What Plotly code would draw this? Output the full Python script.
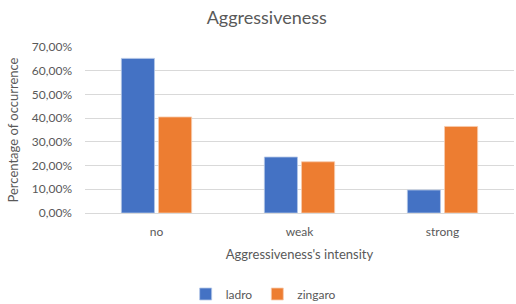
import plotly.graph_objects as go

categories = ["no", "weak", "strong"]
ladro = [0.652, 0.236, 0.097]
zingaro = [0.405, 0.216, 0.365]
y_ticks = [0, 0.1, 0.2, 0.3, 0.4, 0.5, 0.6, 0.7]

FONT = "Lato"
GREY = "#595959"

fig = go.Figure()
fig.add_trace(go.Bar(name="ladro", x=categories, y=ladro,
                     marker=dict(color="#4472C4", line=dict(color="#B4C7E7", width=0.8))))
fig.add_trace(go.Bar(name="zingaro", x=categories, y=zingaro,
                     marker=dict(color="#ED7D31", line=dict(color="#F8CBAD", width=0.8))))

fig.update_layout(
    width=516, height=304,
    margin=dict(l=85, r=2, t=47, b=91),
    paper_bgcolor="white", plot_bgcolor="white",
    separators=", ",
    font=dict(family=FONT, color=GREY, size=12),
    barmode="group", bargap=0.48, bargroupgap=0.11,
    title=dict(text="Aggressiveness", x=0.517, xref="container", xanchor="center",
               y=1 - 18 / 304, yref="container", yanchor="middle",
               font=dict(family=FONT, size=18, color=GREY)),
    showlegend=True,
    legend=dict(orientation="h", xref="container", x=0.51, xanchor="center",
                yref="container", y=1 - 294 / 304, yanchor="middle",
                font=dict(family=FONT, size=12, color=GREY),
                itemwidth=30, traceorder="normal"),
)
fig.update_yaxes(range=[0, 0.7], tickvals=y_ticks, tickformat=".2%",
                 showgrid=True, gridcolor="#D9D9D9", gridwidth=1,
                 zeroline=False, showline=False, ticks="", ticklabelstandoff=12,
                 title=dict(text="Percentage of occurrence", standoff=10,
                            font=dict(family=FONT, size=13, color=GREY)))
fig.update_xaxes(showline=True, linecolor="#D9D9D9", linewidth=1, ticks="",
                 ticklabelstandoff=8,
                 title=dict(text="Aggressiveness's intensity", standoff=11,
                            font=dict(family=FONT, size=13, color=GREY)))

fig.write_html("out.html", config={"displayModeBar": False},
               post_script="document.body.style.margin='0';document.body.style.padding='0';")
